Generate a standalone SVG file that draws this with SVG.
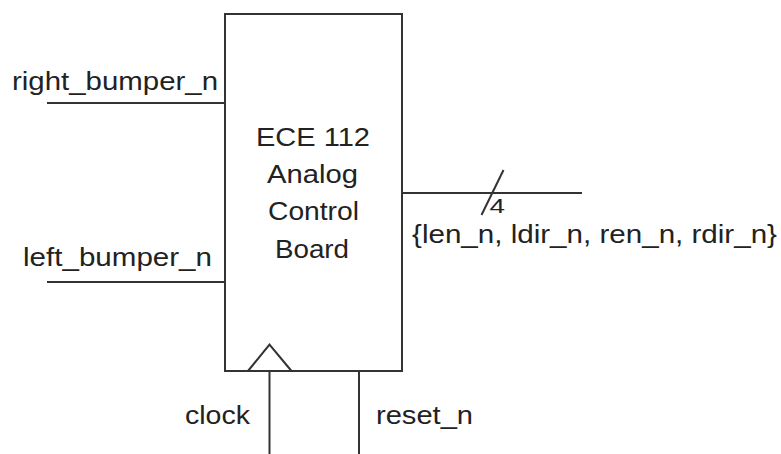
<svg xmlns="http://www.w3.org/2000/svg" width="781" height="454" viewBox="0 0 781 454">
<style>
.ln{stroke:#333;stroke-width:2;fill:none}
.t{font-family:"Liberation Sans",Arial,sans-serif;font-size:26.5px;fill:#222}
</style>
<rect x="0" y="0" width="781" height="454" fill="#fff"/>
<g id="board">
<rect class="ln" x="225" y="14" width="177" height="357"/>
<polyline class="ln" points="248,371 269.5,344.5 291.5,371"/>
<text class="t" x="256" y="146" textLength="114" lengthAdjust="spacingAndGlyphs">ECE 112</text>
<text class="t" x="267" y="183" textLength="91" lengthAdjust="spacingAndGlyphs">Analog</text>
<text class="t" x="268" y="220" textLength="91" lengthAdjust="spacingAndGlyphs">Control</text>
<text class="t" x="275" y="257.5" textLength="74" lengthAdjust="spacingAndGlyphs">Board</text>
</g>
<g id="connectors">
<line class="ln" x1="47" y1="103" x2="225" y2="103"/>
<line class="ln" x1="47" y1="282" x2="225" y2="282"/>
<line class="ln" x1="402" y1="193" x2="582" y2="193"/>
<line class="ln" x1="503.5" y1="170" x2="481.5" y2="215"/>
<line class="ln" x1="269.5" y1="371" x2="269.5" y2="454"/>
<line class="ln" x1="359" y1="371" x2="359" y2="454"/>
</g>
<g id="labels">
<text class="t" x="489.5" y="213" style="font-size:21px" textLength="15.5" lengthAdjust="spacingAndGlyphs">4</text>
<text class="t" x="12" y="90" textLength="206" lengthAdjust="spacingAndGlyphs">right_bumper_n</text>
<text class="t" x="23" y="266" textLength="189" lengthAdjust="spacingAndGlyphs">left_bumper_n</text>
<text class="t" x="412" y="242.5" textLength="365" lengthAdjust="spacingAndGlyphs">{len_n, ldir_n, ren_n, rdir_n}</text>
<text class="t" x="185" y="424" textLength="65" lengthAdjust="spacingAndGlyphs">clock</text>
<text class="t" x="376" y="424" textLength="97" lengthAdjust="spacingAndGlyphs">reset_n</text>
</g>
</svg>
